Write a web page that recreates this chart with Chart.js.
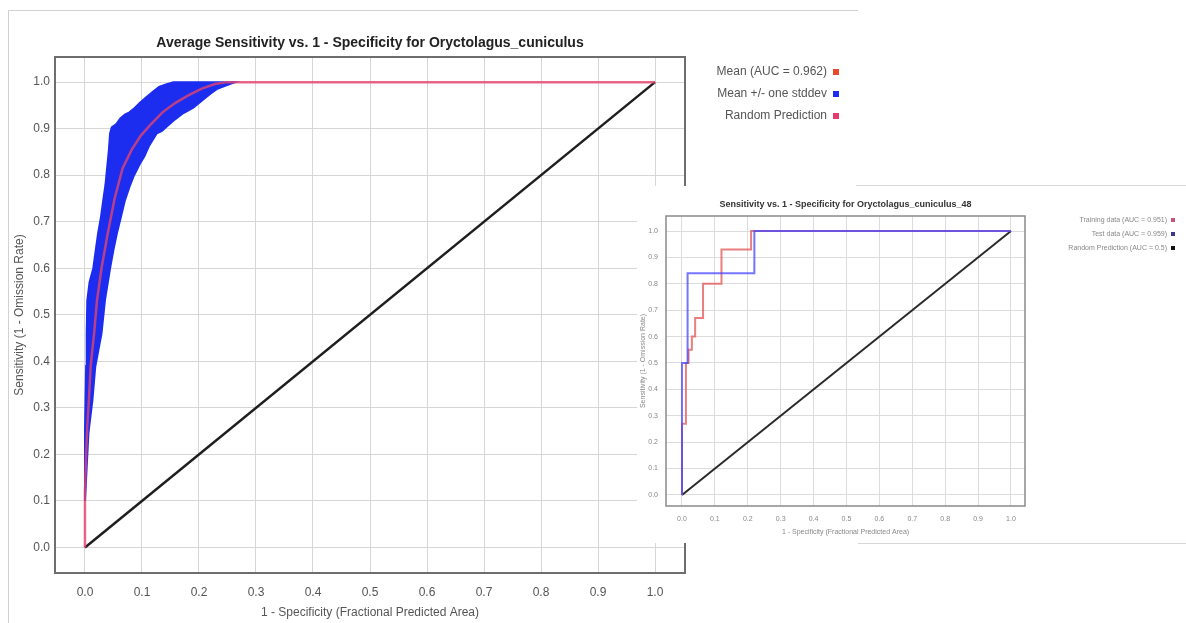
<!DOCTYPE html>
<html>
<head>
<meta charset="utf-8">
<script src="https://cdn.jsdelivr.net/npm/chart.js@4.4.0/dist/chart.umd.min.js"></script>
<style>
body { margin: 0; background: #fff; width: 1186px; height: 623px; overflow: hidden; position: relative; }
#frame { position: absolute; left: 8px; top: 10px; width: 849px; height: 640px; border-top: 1px solid #d2d2d2; border-left: 1px solid #d2d2d2; }
#mainWrap { position: absolute; left: 0; top: 0; width: 860px; height: 623px; }
#insetWrap { position: absolute; left: 637px; top: 186px; width: 549px; height: 357px; background: #fff; }
.rule { position: absolute; height: 1px; background: #d8d8d8; }
</style>
</head>
<body>
<div id="frame"></div>
<div id="mainWrap"><canvas id="mainChart" width="860" height="623"></canvas></div>
<div id="insetWrap"><canvas id="insetChart" width="549" height="357"></canvas></div>
<div class="rule" style="left:856px;top:185px;width:330px"></div>
<div class="rule" style="left:858px;top:543px;width:328px"></div>
<script>
const tickValues = [0, 0.1, 0.2, 0.3, 0.4, 0.5, 0.6, 0.7, 0.8, 0.9, 1.0];

// main chart: averaged ROC
const meanFpr = [0, 0, 0.002, 0.004, 0.007, 0.010, 0.016, 0.021, 0.029, 0.040, 0.052, 0.066, 0.082, 0.098, 0.116, 0.136, 0.158, 0.182, 0.205, 0.228, 0.250, 1.0];
const meanTpr = [0, 0.12, 0.20, 0.26, 0.32, 0.39, 0.46, 0.53, 0.60, 0.675, 0.75, 0.815, 0.855, 0.885, 0.91, 0.935, 0.955, 0.972, 0.986, 0.996, 1.0, 1.0];

const sdUpperFpr = [0, 0, 0.001, 0.002, 0.003, 0.004, 0.008, 0.0146, 0.019, 0.023, 0.028, 0.032, 0.036, 0.039, 0.042, 0.044, 0.047, 0.055, 0.062, 0.070, 0.078, 0.085, 0.096, 0.108, 0.118, 0.130, 0.142, 0.155];
const sdUpperTpr = [0.10, 0.25, 0.32, 0.39, 0.46, 0.53, 0.57, 0.60, 0.64, 0.675, 0.71, 0.746, 0.78, 0.818, 0.855, 0.89, 0.903, 0.91, 0.922, 0.93, 0.935, 0.942, 0.955, 0.968, 0.978, 0.99, 0.995, 1.0];
const sdLowerFpr = [0, 0.003, 0.006, 0.013, 0.018, 0.029, 0.035, 0.044, 0.050, 0.056, 0.063, 0.070, 0.078, 0.085, 0.097, 0.104, 0.112, 0.126, 0.135, 0.143, 0.158, 0.172, 0.190, 0.207, 0.220, 0.231, 0.248, 0.263];
const sdLowerTpr = [0.10, 0.173, 0.245, 0.316, 0.388, 0.46, 0.531, 0.60, 0.64, 0.675, 0.71, 0.746, 0.775, 0.797, 0.826, 0.84, 0.862, 0.89, 0.895, 0.904, 0.92, 0.933, 0.945, 0.962, 0.975, 0.985, 0.993, 1.0];

const randomFpr = [0, 1];
const randomTpr = [0, 1];

const mainLabels = ["Mean (AUC = 0.962)", "Mean +/- one stddev", "Random Prediction"];
const mainLegendColors = ["#e8482a", "#1c2df0", "#e23c6c"];

// inset: single run ROC
const trainFpr = [0, 0, 0.012, 0.012, 0.02, 0.02, 0.03, 0.03, 0.04, 0.04, 0.064, 0.064, 0.12, 0.12, 0.21, 0.21, 1.0];
const trainTpr = [0, 0.27, 0.27, 0.5, 0.5, 0.55, 0.55, 0.6, 0.6, 0.67, 0.67, 0.8, 0.8, 0.93, 0.93, 1.0, 1.0];
const testFpr = [0, 0, 0.017, 0.017, 0.22, 0.22, 1.0];
const testTpr = [0, 0.5, 0.5, 0.84, 0.84, 1.0, 1.0];

const insetLabels = ["Training data (AUC = 0.951)", "Test data (AUC = 0.959)", "Random Prediction (AUC = 0.5)"];
const insetLegendColors = ["#c8507a", "#3a3a8a", "#111111"];

Chart.defaults.font.family = '"Liberation Sans", Arial, sans-serif';
Chart.defaults.animation = false;

function toPoints(xs, ys) {
    return xs.map((x, i) => ({ x: x, y: ys[i] }));
}

// legend: text first, colour square after it
function sideLegend(labels, colors, o) {
    return {
        id: "sideLegend",
        afterDraw(chart) {
            const ctx = chart.ctx;
            ctx.save();
            ctx.font = o.font;
            ctx.textAlign = "right";
            ctx.textBaseline = "middle";
            labels.forEach((t, i) => {
                const y = o.y0 + i * o.dy;
                ctx.fillStyle = o.color;
                ctx.fillText(t, o.x, y);
                ctx.fillStyle = colors[i];
                ctx.fillRect(o.x + o.gap, y - o.box / 2, o.box, o.box);
            });
            ctx.restore();
        }
    };
}

function plotFrame(color, width) {
    return {
        id: "plotFrame",
        afterDatasetsDraw(chart) {
            const a = chart.chartArea;
            const ctx = chart.ctx;
            ctx.save();
            ctx.strokeStyle = color;
            ctx.lineWidth = width;
            ctx.strokeRect(a.left, a.top, a.right - a.left, a.bottom - a.top);
            ctx.restore();
        }
    };
}

function fixedTicks(scale) {
    scale.ticks = tickValues.map(v => ({ value: v }));
}

// main chart
const bandPoints = toPoints(sdUpperFpr, sdUpperTpr).concat(toPoints(sdLowerFpr, sdLowerTpr).reverse());

new Chart(document.getElementById("mainChart"), {
    type: "scatter",
    data: {
        datasets: [
            {
                label: mainLabels[0],
                data: toPoints(meanFpr, meanTpr),
                showLine: true,
                borderColor: "rgba(226,68,108,0.8)",
                borderWidth: 2.5,
                pointRadius: 0
            },
            {
                label: mainLabels[2],
                data: toPoints(randomFpr, randomTpr),
                showLine: true,
                borderColor: "#1e1e1e",
                borderWidth: 2.5,
                pointRadius: 0
            },
            {
                label: mainLabels[1],
                data: bandPoints,
                showLine: true,
                borderColor: "#1c2df0",
                backgroundColor: "#1c2df0",
                borderWidth: 2,
                fill: "shape",
                pointRadius: 0
            }
        ]
    },
    options: {
        responsive: false,
        layout: { padding: { left: 0, right: 175, top: 0, bottom: 0 } },
        plugins: {
            legend: { display: false },
            tooltip: { enabled: false },
            title: {
                display: true,
                fullSize: false,
                text: "Average Sensitivity vs. 1 - Specificity for Oryctolagus_cuniculus",
                color: "#222",
                font: { size: 14, weight: "bold" },
                padding: { top: 34.6, bottom: 5.6 }
            }
        },
        scales: {
            x: {
                type: "linear",
                min: -0.0526,
                max: 1.0526,
                afterFit: s => { s.height = 50; },
                afterBuildTicks: fixedTicks,
                grid: { color: "#d6d6d6", drawTicks: false },
                border: { display: false },
                ticks: { padding: 12, color: "#555", font: { size: 12 }, callback: v => v.toFixed(1) },
                title: { display: true, text: "1 - Specificity (Fractional Predicted Area)", color: "#555", font: { size: 12 }, padding: { top: 2.8, bottom: 2.8 } }
            },
            y: {
                type: "linear",
                min: -0.055,
                max: 1.054,
                afterFit: s => { s.width = 55; },
                afterBuildTicks: fixedTicks,
                grid: { color: "#d6d6d6", drawTicks: false },
                border: { display: false },
                ticks: { padding: 5, color: "#555", font: { size: 12 }, callback: v => v.toFixed(1) },
                title: { display: true, text: "Sensitivity (1 - Omission Rate)", color: "#555", font: { size: 12 }, padding: { top: 12.8, bottom: 12.8 } }
            }
        }
    },
    plugins: [
        plotFrame("#6e6e6e", 2),
        sideLegend(mainLabels, mainLegendColors, { font: '12px "Liberation Sans", Arial, sans-serif', color: "#555", x: 827, y0: 72, dy: 22, gap: 6, box: 6 })
    ]
});

// inset chart
new Chart(document.getElementById("insetChart"), {
    type: "scatter",
    data: {
        datasets: [
            {
                label: insetLabels[1],
                data: toPoints(testFpr, testTpr),
                showLine: true,
                borderColor: "rgba(70,70,255,0.75)",
                borderWidth: 2,
                pointRadius: 0
            },
            {
                label: insetLabels[0],
                data: toPoints(trainFpr, trainTpr),
                showLine: true,
                borderColor: "rgba(226,84,84,0.75)",
                borderWidth: 2,
                pointRadius: 0
            },
            {
                label: insetLabels[2],
                data: toPoints(randomFpr, randomTpr),
                showLine: true,
                borderColor: "#2a2a2a",
                borderWidth: 2,
                pointRadius: 0
            }
        ]
    },
    options: {
        responsive: false,
        layout: { padding: { left: 0, right: 161, top: 0, bottom: 0 } },
        plugins: {
            legend: { display: false },
            tooltip: { enabled: false },
            title: {
                display: true,
                fullSize: false,
                text: "Sensitivity vs. 1 - Specificity for Oryctolagus_cuniculus_48",
                color: "#333",
                font: { size: 9, weight: "bold" },
                padding: { top: 13.6, bottom: 5.6 }
            }
        },
        scales: {
            x: {
                type: "linear",
                min: -0.0486,
                max: 1.0426,
                afterFit: s => { s.height = 37; },
                afterBuildTicks: fixedTicks,
                grid: { color: "#dcdcdc", drawTicks: false },
                border: { display: false },
                ticks: { padding: 8.5, color: "#888", font: { size: 7 }, callback: v => v.toFixed(1) },
                title: { display: true, text: "1 - Specificity (Fractional Predicted Area)", color: "#888", font: { size: 7 }, padding: { top: 7, bottom: 7 } }
            },
            y: {
                type: "linear",
                min: -0.042,
                max: 1.057,
                afterFit: s => { s.width = 29; },
                afterBuildTicks: fixedTicks,
                grid: { color: "#dcdcdc", drawTicks: false },
                border: { display: false },
                ticks: { padding: 8, color: "#888", font: { size: 7 }, callback: v => v.toFixed(1) },
                title: { display: true, text: "Sensitivity (1 - Omission Rate)", color: "#888", font: { size: 7 }, padding: { top: 1.5, bottom: 1.5 } }
            }
        }
    },
    plugins: [
        plotFrame("#8a8a8a", 1.5),
        sideLegend(insetLabels, insetLegendColors, { font: '7px "Liberation Sans", Arial, sans-serif', color: "#888", x: 530, y0: 34, dy: 14, gap: 4, box: 4 })
    ]
});
</script>
</body>
</html>
